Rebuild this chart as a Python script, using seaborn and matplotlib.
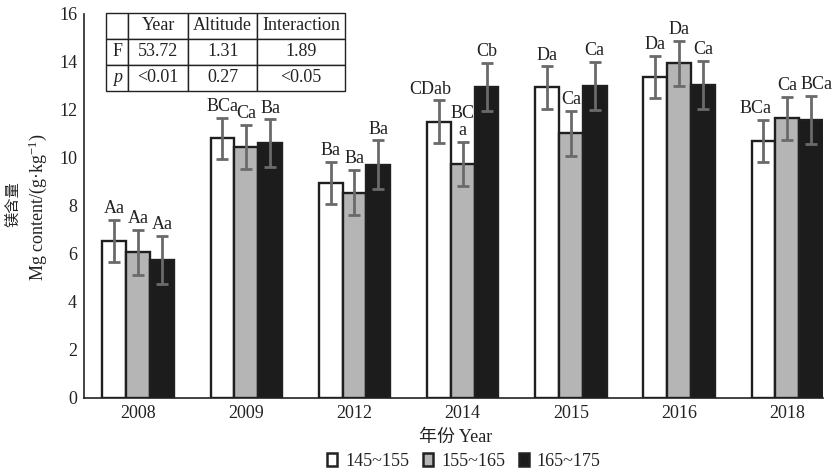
import matplotlib
matplotlib.use("Agg")
import matplotlib.pyplot as plt
import seaborn as sns
import pandas as pd
from matplotlib.patches import Patch
from matplotlib.ticker import FixedLocator

# ---------------- data ----------------
years = ["2008", "2009", "2012", "2014", "2015", "2016", "2018"]
altitudes = ["145~155", "155~165", "165~175"]
mg_145 = [6.55, 10.82, 8.97, 11.51, 12.94, 13.39, 10.72]
mg_155 = [6.07, 10.47, 8.56, 9.75, 11.03, 13.94, 11.65]
mg_165 = [5.75, 10.61, 9.71, 12.97, 13.00, 13.04, 11.58]
err_145 = [0.88, 0.86, 0.88, 0.89, 0.88, 0.88, 0.88]
err_155 = [0.94, 0.92, 0.93, 0.93, 0.93, 0.93, 0.89]
err_165 = [1.00, 1.00, 1.02, 1.00, 1.00, 1.00, 1.00]
lab_145 = ["Aa", "BCa", "Ba", "CDab", "Da", "Da", "BCa"]
lab_155 = ["Aa", "Ca", "Ba", "BC\na", "Ca", "Da", "Ca"]
lab_165 = ["Aa", "Ba", "Ba", "Cb", "Ca", "Ca", "BCa"]
table_header = ["", "Year", "Altitude", "Interaction"]
table_F = ["F", "53.72", "1.31", "1.89"]
table_p = ["p", "<0.01", "0.27", "<0.05"]
y_ticks = [0, 2, 4, 6, 8, 10, 12, 14, 16]

values = [mg_145, mg_155, mg_165]
errors = [err_145, err_155, err_165]
labels = [lab_145, lab_155, lab_165]

df = pd.DataFrame({
    "year": [y for _ in altitudes for y in years],
    "alt": [a for a in altitudes for _ in years],
    "mg": [v for s in values for v in s],
})

# ---------------- style ----------------
sns.set_style("white")
SERIF = ["Liberation Serif", "Noto Sans CJK SC", "DejaVu Sans"]
plt.rcParams["font.family"] = SERIF
plt.rcParams["mathtext.fontset"] = "custom"
plt.rcParams["mathtext.rm"] = "Liberation Serif"
plt.rcParams["mathtext.it"] = "Liberation Serif:italic"
FS = 13
colors = ["#ffffff", "#b5b5b5", "#1c1c1c"]
edge = "#1f1f1f"

fig = plt.figure(figsize=(8.34, 4.72), dpi=100)
W, H = 834, 472
ax = fig.add_axes([84 / W, 74 / H, 739 / W, 384 / H])

sns.barplot(data=df, x="year", y="mg", hue="alt", order=years, hue_order=altitudes,
            palette=colors, width=0.66, saturation=1, errorbar=None,
            edgecolor=edge, linewidth=1.7, legend=False, ax=ax, zorder=3)

# label x nudges in pixels (series index, year index) -> dx
nudge = {(0, 3): -9, (0, 6): -8, (2, 6): 5}

bar_conts = list(ax.containers)
for i, cont in enumerate(bar_conts):
    for j, bar in enumerate(cont.patches):
        x = bar.get_x() + bar.get_width() / 2
        top = bar.get_height()
        e = errors[i][j]
        ax.errorbar(x, top, yerr=e, fmt="none", ecolor="#6a6a6a", elinewidth=2.0,
                    capsize=4, capthick=2.0, zorder=4)
        dx = nudge.get((i, j), 0) * 72 / 100
        ax.annotate(labels[i][j], (x, top + e), xytext=(dx, 2.0), textcoords="offset points",
                    ha="center", va="bottom", fontsize=FS, linespacing=1.0,
                    color="#222222", zorder=2)

ax.set_xlim(-0.5, 6.33)
ax.set_ylim(0, 16)
ax.set_yticks(y_ticks)
ax.set_xlabel("")
ax.set_ylabel("")
for s in ["top", "right"]:
    ax.spines[s].set_visible(False)
for s in ["left", "bottom"]:
    ax.spines[s].set_color("#222222")
    ax.spines[s].set_linewidth(1.2)
ax.tick_params(axis="y", direction="in", length=4.5, width=1, pad=5, labelsize=FS, colors="#222222")
ax.tick_params(axis="x", which="major", length=0, pad=5, labelsize=FS, colors="#222222")
ax.xaxis.set_minor_locator(FixedLocator([0.5, 1.5, 2.5, 3.5, 4.5, 5.5]))
ax.tick_params(axis="x", which="minor", direction="in", length=4.5, width=1, color="#222222")

# table
tbl = ax.table(cellText=[table_header, table_F, table_p],
               colWidths=[22.3, 60, 69, 87.7], cellLoc="center",
               bbox=[22 / 739, (398 - 90.7) / 384, 239 / 739, 78 / 384])
tbl.auto_set_font_size(False)
for (r, c), cell in tbl.get_celld().items():
    cell.set_linewidth(1.0)
    cell.set_edgecolor("#222222")
    cell.set_facecolor("white")
    t = cell.get_text()
    t.set_fontsize(FS)
    t.set_color("#222222")
    if r == 2 and c == 0:
        t.set_fontstyle("italic")
tbl.set_zorder(6)

# axis titles
fig.text(456 / W, 1 - 437 / H, "年份 Year", ha="center", va="center", fontsize=FS,
         color="#222222", family=SERIF)
fig.text(13 / W, 1 - 204 / H, "镁含量", rotation=90, ha="center", va="center",
         fontsize=11, color="#222222", family=["Noto Sans CJK SC", "DejaVu Sans"])
fig.text(38 / W, 1 - 207 / H, r"Mg content/(g·kg$^{-1}$)", rotation=90, ha="center",
         va="center", fontsize=FS, color="#222222")

handles = [Patch(facecolor=c, edgecolor="#222222", linewidth=1.8) for c in colors]
fig.legend(handles, altitudes, loc="center", bbox_to_anchor=(464 / W, 1 - 461 / H),
           ncol=3, frameon=False, fontsize=FS, handlelength=0.55, handleheight=0.72,
           handletextpad=0.45, columnspacing=0.75, borderpad=0, labelcolor="#222222")

fig.savefig("out.png", dpi=100)
